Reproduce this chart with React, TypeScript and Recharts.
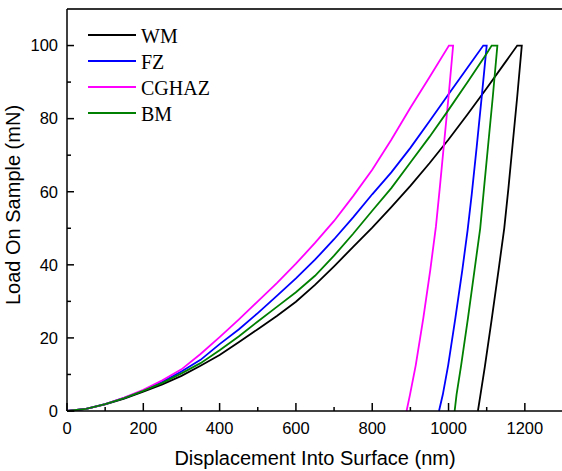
import React from 'react';
import { LineChart, Line, XAxis, YAxis, Legend, ReferenceLine } from 'recharts';

// Nanoindentation load-displacement loops (displacement in nm, load in mN)
const wmDisplacement = [
  0, 50, 100, 150, 200, 250, 300, 350, 400, 450, 500, 550, 600, 650, 700, 750, 800, 850, 900, 950, 1000, 1050, 1100, 1150, 1180,
  1192, 1180, 1168, 1157, 1146, 1131, 1113, 1095, 1083, 1077,
];
const wmLoad = [
  0, 0.6, 1.8, 3.4, 5.3, 7.3, 9.6, 12.4, 15.3, 18.8, 22.4, 26, 29.9, 34.5, 39.6, 44.9, 50.2, 55.8, 61.6, 67.8, 74.3, 81.2, 88.3, 95.6, 100,
  100, 86, 73, 61, 50, 38.5, 25, 12, 4, 0,
];

const fzDisplacement = [
  0, 50, 100, 150, 200, 250, 300, 350, 400, 450, 500, 550, 600, 650, 700, 750, 800, 850, 900, 950, 1000, 1050, 1091,
  1100, 1087, 1074, 1061, 1050, 1036, 1018, 999, 985, 975,
];
const fzLoad = [
  0, 0.6, 1.9, 3.6, 5.6, 8, 10.8, 14, 18.3, 22.3, 26.8, 31.5, 36.3, 41.4, 47, 53, 59.3, 65.3, 72, 79.3, 86.7, 94, 100,
  100, 86, 72.5, 59.5, 49.5, 38.5, 25.5, 12.5, 4.5, 0,
];

const cghazDisplacement = [
  0, 50, 100, 150, 200, 250, 300, 350, 400, 450, 500, 550, 600, 650, 700, 750, 800, 850, 900, 950, 1001,
  1012, 1000, 988, 977, 967, 952, 934, 914, 899, 890,
];
const cghazLoad = [
  0, 0.6, 1.9, 3.7, 5.8, 8.4, 11.4, 15.6, 20.2, 25, 30, 35, 40.3, 46, 52, 58.8, 66, 74.2, 83, 91.3, 100,
  100, 86, 73, 61, 50.5, 38.5, 25.5, 12.5, 4.5, 0,
];

const bmDisplacement = [
  0, 50, 100, 150, 200, 250, 300, 350, 400, 450, 500, 550, 600, 650, 700, 750, 800, 850, 900, 950, 1000, 1050, 1100, 1113,
  1128, 1116, 1104, 1093, 1083, 1068, 1051, 1033, 1021, 1016,
];
const bmLoad = [
  0, 0.6, 1.9, 3.5, 5.5, 7.7, 10.3, 13.1, 16.6, 20.4, 24.5, 28.5, 32.5, 37, 42.5, 48.5, 54.8, 61, 68, 75, 82.4, 90, 97.8, 100,
  100, 86, 73, 61, 50, 38.5, 25.5, 12.5, 4.5, 0,
];

const xTicks = [0, 100, 200, 300, 400, 500, 600, 700, 800, 900, 1000, 1100, 1200];
const yTicks = [0, 10, 20, 30, 40, 50, 60, 70, 80, 90, 100];

const zip = (xs: number[], ys: number[]) => xs.map((x, i) => ({ x, y: ys[i] }));

const series = [
  { name: 'WM', color: '#000000', data: zip(wmDisplacement, wmLoad) },
  { name: 'FZ', color: '#0000ff', data: zip(fzDisplacement, fzLoad) },
  { name: 'CGHAZ', color: '#ff00ff', data: zip(cghazDisplacement, cghazLoad) },
  { name: 'BM', color: '#008000', data: zip(bmDisplacement, bmLoad) },
];

const W = 563;
const H = 471;
const PLOT_TOP = 9;
const X_AXIS_H = 60;
const PLOT_BOTTOM = H - X_AXIS_H;
const PLOT_LEFT = 67;
const SANS = "'Liberation Sans', Arial, sans-serif";
const SERIF = "'Liberation Serif', 'Times New Roman', serif";

const XTick = (props: any) => {
  const { x, payload } = props;
  const major = payload.value % 200 === 0;
  return (
    <g>
      <line x1={x} x2={x} y1={PLOT_BOTTOM} y2={PLOT_BOTTOM - (major ? 8 : 4)} stroke="#000" strokeWidth={1.5} />
      {major && (
        <text x={x} y={PLOT_BOTTOM + 23} textAnchor="middle" fontFamily={SANS} fontSize={16.5} fill="#000">
          {payload.value}
        </text>
      )}
    </g>
  );
};

const YTick = (props: any) => {
  const { y, payload } = props;
  const major = payload.value % 20 === 0;
  return (
    <g>
      <line x1={PLOT_LEFT} x2={PLOT_LEFT + (major ? 7 : 4)} y1={y} y2={y} stroke="#000" strokeWidth={1.5} />
      {major && (
        <text x={PLOT_LEFT - 9} y={y} dy="0.35em" textAnchor="end" fontFamily={SANS} fontSize={16.5} fill="#000">
          {payload.value}
        </text>
      )}
    </g>
  );
};

const XTitle = () => (
  <text x={(PLOT_LEFT + W) / 2} y={465} textAnchor="middle" fontFamily={SANS} fontSize={20} fill="#000">
    Displacement Into Surface (nm)
  </text>
);

const YTitle = () => (
  <text
    x={20}
    y={205}
    transform="rotate(-90, 20, 205)"
    textAnchor="middle"
    fontFamily={SANS}
    fontSize={20}
    fill="#000"
  >
    Load On Sample (mN)
  </text>
);

const LegendBox = () => (
  <svg width={260} height={130}>
    {series.map((s, i) => (
      <g key={s.name}>
        <line x1={88} x2={136} y1={35 + i * 26} y2={35 + i * 26} stroke={s.color} strokeWidth={2} />
        <text x={141} y={42.5 + i * 26} fontFamily={SERIF} fontSize={20} fill="#000">
          {s.name}
        </text>
      </g>
    ))}
  </svg>
);

export default function App() {
  return (
    <div style={{ position: 'fixed', left: 0, top: 0, width: 562, height: H, overflow: 'hidden', background: '#fff' }}>
      <LineChart width={W} height={H} margin={{ top: PLOT_TOP, right: 0, bottom: 0, left: 11 }}>
        <XAxis
          type="number"
          dataKey="x"
          domain={[0, 1300]}
          ticks={xTicks}
          interval={0}
          height={X_AXIS_H}
          axisLine={{ stroke: '#000', strokeWidth: 1.5 }}
          tickLine={false}
          tick={<XTick />}
          label={<XTitle />}
          allowDuplicatedCategory={false}
        />
        <YAxis
          type="number"
          domain={[0, 110]}
          ticks={yTicks}
          interval={0}
          width={56}
          axisLine={{ stroke: '#000', strokeWidth: 1.5 }}
          tickLine={false}
          tick={<YTick />}
          label={<YTitle />}
        />
        <ReferenceLine y={110} stroke="#333" strokeWidth={2} />
        <Legend
          layout="horizontal"
          verticalAlign="middle"
          align="center"
          wrapperStyle={{ top: 0, left: 0, width: 260, height: 130 }}
          content={<LegendBox />}
        />
        {series.map((s) => (
          <Line
            key={s.name}
            data={s.data}
            dataKey="y"
            name={s.name}
            type="linear"
            stroke={s.color}
            strokeWidth={1.8}
            dot={false}
            activeDot={false}
            isAnimationActive={false}
          />
        ))}
      </LineChart>
    </div>
  );
}
